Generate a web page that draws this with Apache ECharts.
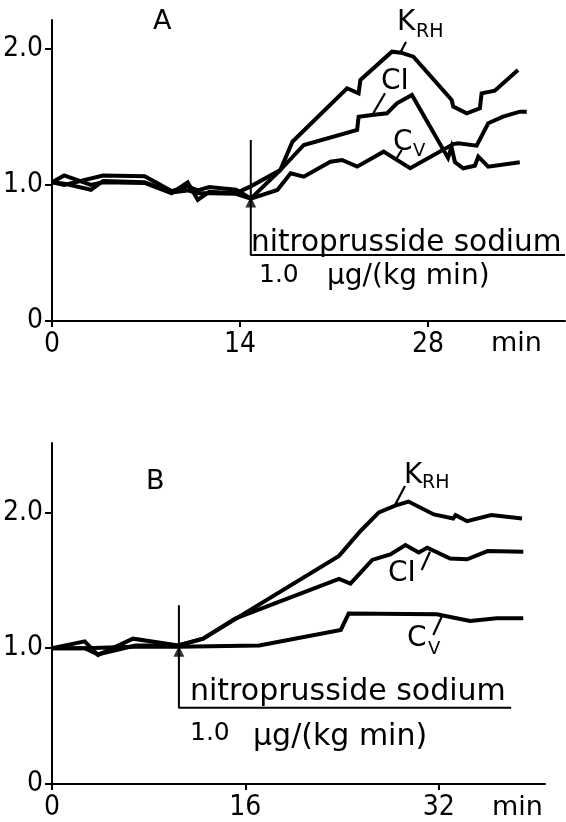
<!DOCTYPE html>
<html>
<head>
<meta charset="utf-8">
<script src="https://cdn.jsdelivr.net/npm/echarts@6/dist/echarts.min.js"></script>
<style>
  html, body { margin: 0; padding: 0; background: #fff; }
  #chart { width: 566px; height: 822px; }
</style>
</head>
<body>
<div id="chart"></div>
<script>
// ---- Panel A: relative values vs time (min), infusion starts at ~14.8 min ----
const aKRH = [[0,1.02],[0.9,1.0],[3.8,1.07],[6.9,1.065],[8.9,0.955],[10.1,0.99],[10.85,0.96],[11.7,0.985],[13.7,0.965],[14.8,0.90],
  [17.0,1.11],[17.9,1.318],[21.97,1.711],[22.83,1.674],[22.96,1.772],[25.31,1.98],[25.98,1.973],[26.91,1.943],
  [29.76,1.625],[29.88,1.576],[30.88,1.527],[31.86,1.564],[31.99,1.674],[32.97,1.693],[34.7,1.846]];
const aCI = [[0,1.02],[0.9,1.07],[2.9,1.0],[3.8,1.02],[6.9,1.015],[8.9,0.94],[10.1,1.02],[10.85,0.89],[11.7,0.95],[13.7,0.94],[14.8,0.99],
  [17.0,1.11],[18.75,1.294],[22.72,1.404],[22.83,1.502],[23.83,1.515],[24.94,1.527],[25.68,1.601],[26.8,1.662],
  [29.49,1.199],[29.75,1.279],[30.0,1.169],[30.62,1.123],[31.49,1.142],[31.74,1.208],[32.48,1.135],[34.83,1.167]];
const aCV = [[0,1.02],[0.9,1.01],[2.9,0.965],[3.8,1.03],[6.9,1.02],[8.9,0.945],[10.1,0.96],[10.85,0.94],[11.7,0.94],[13.7,0.935],[14.8,0.90],
  [16.78,0.963],[17.77,1.086],[18.75,1.061],[20.73,1.171],[21.6,1.184],[22.72,1.135],[24.69,1.245],[26.67,1.123],
  [29.88,1.301],[30.25,1.307],[31.62,1.289],[32.48,1.454],[33.59,1.502],[34.83,1.539],[35.35,1.539]];

// ---- Panel B ----
const bKRH = [[0,1.0],[2.7,1.05],[3.8,0.95],[6.7,1.07],[10.45,1.02],[12.5,1.07],[23.75,1.68],[25.55,1.865],[27.05,2.0],
  [28.4,2.05],[29.5,2.08],[31.6,1.985],[33.2,1.955],[33.4,1.98],[34.35,1.935],[36.35,1.98],[38.9,1.955]];
const bCI = [[0,1.0],[2.7,1.0],[3.8,0.955],[6.9,1.02],[10.45,1.02],[12.5,1.07],[15.2,1.22],[23.75,1.51],[24.7,1.475],
  [26.5,1.65],[28.0,1.69],[29.25,1.76],[30.35,1.705],[31.05,1.74],[32.95,1.66],[34.35,1.655],[36.05,1.715],[39.0,1.71]];
const bCV = [[0,1.0],[2.7,1.0],[6.7,1.01],[10.45,1.01],[17.15,1.02],[23.9,1.135],[24.55,1.255],[31.85,1.25],
  [34.6,1.2],[36.8,1.22],[39.0,1.22]];

// Tick values and infusion start times
const aXTicks = [0, 14, 28];
const bXTicks = [0, 16, 32];
const yTicks = [0, 1, 2];
const aInfusion = 14.8;
const bInfusion = 10.5;

const NUM_FONT = "'Liberation Sans Narrow','DejaVu Sans Condensed','Liberation Sans',sans-serif";
const TXT_FONT = "'DejaVu Sans',sans-serif";
const INK = '#000';

const chart = echarts.init(document.getElementById('chart'), null, { renderer: 'canvas' });

function xAxis(gridIndex, max, ticks) {
  return {
    gridIndex, type: 'value', min: 0, max,
    axisLine: { show: true, onZero: false, lineStyle: { color: INK, width: 2 } },
    axisTick: { show: true, customValues: ticks, length: 6, lineStyle: { color: INK, width: 2 } },
    axisLabel: { customValues: ticks, color: INK, fontSize: 28, fontFamily: NUM_FONT, margin: 10 },
    splitLine: { show: false }
  };
}
function yAxis(gridIndex, max) {
  return {
    gridIndex, type: 'value', min: 0, max,
    axisLine: { show: true, lineStyle: { color: INK, width: 2 } },
    axisTick: { show: true, customValues: yTicks, length: 7, lineStyle: { color: INK, width: 2 } },
    axisLabel: { customValues: yTicks, color: INK, fontSize: 28, fontFamily: NUM_FONT, margin: 9,
      formatter: v => v === 0 ? '0' : v.toFixed(1) },
    splitLine: { show: false }
  };
}
function curve(name, data, idx) {
  return { name, type: 'line', xAxisIndex: idx, yAxisIndex: idx, data, symbol: 'none', silent: true,
    lineStyle: { color: INK, width: 4, join: 'miter' } };
}
function bracket(idx, t, top, bottom, end) {
  return { type: 'line', xAxisIndex: idx, yAxisIndex: idx, symbol: 'none', silent: true,
    data: [[t, top], [t, bottom], [end, bottom]], lineStyle: { color: INK, width: 2 } };
}
function arrowHead(idx, t, v) {
  return { type: 'scatter', xAxisIndex: idx, yAxisIndex: idx, symbol: 'triangle', symbolSize: [11, 11],
    data: [[t, v]], silent: true, itemStyle: { color: INK } };
}
function txt(x, y, s, size) {
  return { type: 'text', x, y, silent: true,
    style: { text: s, fill: INK, font: size + 'px ' + TXT_FONT, align: 'left', verticalAlign: 'middle' } };
}
function seg(x1, y1, x2, y2) {
  return { type: 'line', silent: true, shape: { x1, y1, x2, y2 }, style: { stroke: INK, lineWidth: 2.2 } };
}

chart.setOption({
  backgroundColor: '#fff',
  animation: false,
  grid: [
    { left: 50, top: 20, width: 515, height: 301 },
    { left: 50, top: 443, width: 495, height: 344 }
  ],
  xAxis: [xAxis(0, 38.2, aXTicks), xAxis(1, 40.8, bXTicks)],
  yAxis: [yAxis(0, 2.213), yAxis(1, 2.511)],
  series: [
    curve('KRH', aKRH, 0), curve('CI', aCI, 0), curve('Cv', aCV, 0),
    bracket(0, aInfusion, 1.33, 0.485, 38.2), arrowHead(0, aInfusion, 0.875),
    curve('KRH', bKRH, 1), curve('CI', bCI, 1), curve('Cv', bCV, 1),
    bracket(1, bInfusion, 1.316, 0.562, 38.0), arrowHead(1, bInfusion, 0.978)
  ],
  graphic: [
    // panel A labels
    txt(153, 22, 'A', 27),
    txt(397, 23, 'K', 28), txt(416, 32, 'RH', 19), seg(400.7, 52, 406, 42),
    txt(381, 82, 'CI', 28), seg(373.3, 113.3, 385, 93.3),
    txt(393, 143, 'C', 28), txt(413, 151, 'V', 18), seg(396.7, 158.3, 401.7, 150),
    txt(251, 243, 'nitroprusside sodium', 29.5),
    txt(259, 275, '1.0', 25), txt(327, 277, 'μg/(kg min)', 28),
    txt(491, 344, 'min', 27),
    // panel B labels
    txt(146, 482, 'B', 27),
    txt(404, 476, 'K', 28), txt(422, 483, 'RH', 19), seg(395, 505, 405, 486),
    txt(388, 574, 'CI', 28), seg(421.7, 570, 430, 551.7),
    txt(407, 639, 'C', 28), txt(428, 649, 'V', 18), seg(433.3, 635, 441.7, 616.7),
    txt(190, 692, 'nitroprusside sodium', 30),
    txt(190, 733, '1.0', 25), txt(253, 737, 'μg/(kg min)', 30),
    txt(492, 808, 'min', 27)
  ]
});
</script>
</body>
</html>
